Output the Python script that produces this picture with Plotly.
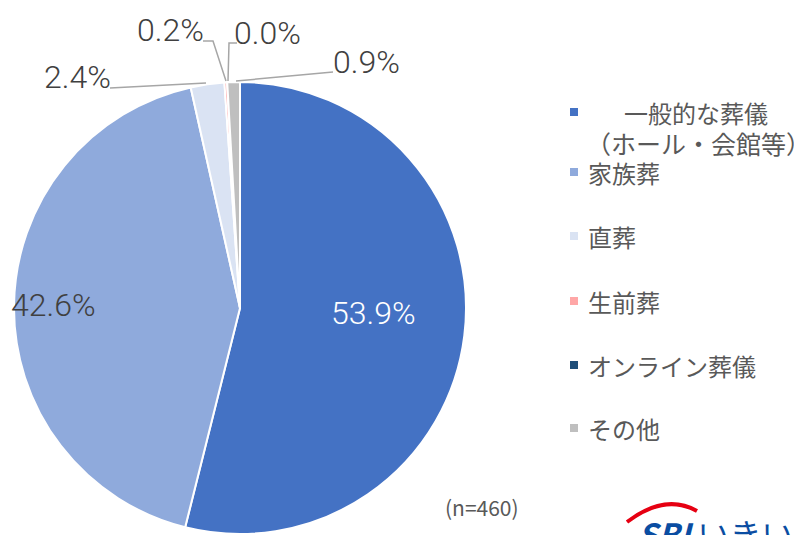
import plotly.graph_objects as go

categories = ["一般的な葬儀（ホール・会館等）", "家族葬", "直葬", "生前葬", "オンライン葬儀", "その他"]
values = [53.9, 42.6, 2.4, 0.2, 0.0, 0.9]
colors = ["#4472C4", "#8FAADC", "#DAE3F3", "#FFA7A7", "#1F4E79", "#BFBFBF"]
sample_note = "(n=460)"

W, H = 802, 535
OFF = 8  # page body margin


def px(x):
    return (x - OFF) / W


def py(y):
    return 1 - (y - OFF) / H


fig = go.Figure()
fig.add_trace(go.Pie(
    labels=categories,
    values=values,
    sort=False,
    direction="clockwise",
    rotation=0,
    marker=dict(colors=colors, line=dict(color="white", width=2)),
    textinfo="none",
    hoverinfo="label+percent",
    showlegend=False,
    domain=dict(x=[px(13), px(467)], y=[py(534), py(82)]),
))

pct_font = dict(family="Roboto", size=32, weight=300)
label_pos = [(373, 313, "white"), (53, 305, "#404040"), (77, 77, "#404040"),
             (170, 30, "#404040"), (267, 33, "#404040"), (366, 62, "#404040")]
annotations = []
for v, (x, y, c) in zip(values, label_pos):
    annotations.append(dict(x=px(x), y=py(y), xref="paper", yref="paper",
                            text=f"{v:.1f}%", showarrow=False,
                            font=dict(color=c, **pct_font),
                            xanchor="center", yanchor="middle"))

# leader lines
leaders = [
    [(110, 88), (206, 83)],
    [(203, 41), (213, 41), (226, 81)],
    [(237, 43), (229, 43), (228, 81)],
    [(333, 72), (236, 81)],
]
shapes = []
for pts in leaders:
    path = "M " + " L ".join(f"{px(a)},{py(b)}" for a, b in pts)
    shapes.append(dict(type="path", path=path, xref="paper", yref="paper",
                       line=dict(color="#A6A6A6", width=1.5)))

# manual legend
leg_font = dict(family="Noto Sans CJK JP", size=24, color="#595959")
leg_y = [112, 172, 236, 301, 365, 428]
for cat, col, y in zip(categories, colors, leg_y):
    shapes.append(dict(type="rect", xref="paper", yref="paper",
                       x0=px(570), x1=px(578), y0=py(y - 4), y1=py(y + 4),
                       fillcolor=col, line=dict(width=0)))
    if "（" in cat:
        first, second = cat.split("（", 1)
        annotations.append(dict(x=px(622), y=py(y), xref="paper", yref="paper",
                                text=first, showarrow=False, font=leg_font,
                                xanchor="left", yanchor="middle"))
        annotations.append(dict(x=px(584), y=py(y + 31), xref="paper", yref="paper",
                                text="（" + second, showarrow=False,
                                font=dict(leg_font, size=25),
                                xanchor="left", yanchor="middle"))
    else:
        annotations.append(dict(x=px(586), y=py(y), xref="paper", yref="paper",
                                text=cat, showarrow=False, font=leg_font,
                                xanchor="left", yanchor="middle"))

annotations.append(dict(x=px(482), y=py(507), xref="paper", yref="paper",
                        text=sample_note, showarrow=False,
                        font=dict(family="Noto Sans CJK JP", size=21, color="#595959"),
                        xanchor="center", yanchor="middle"))

# logo (partially cropped)
annotations.append(dict(x=px(636), y=py(533), xref="paper", yref="paper",
                        text="<b><i>SBI</i></b> いきいき", showarrow=False,
                        font=dict(family="Noto Sans CJK JP", size=32, color="#0A4DA2"),
                        xanchor="left", yanchor="middle"))
shapes.append(dict(type="path", xref="paper", yref="paper",
                   path=f"M {px(627)},{py(522)} Q {px(665)},{py(493)} {px(697)},{py(511)}",
                   line=dict(color="#E60012", width=4)))

fig.update_layout(
    width=W, height=H,
    margin=dict(l=0, r=0, t=0, b=0),
    paper_bgcolor="white", plot_bgcolor="white",
    annotations=annotations, shapes=shapes,
)
fig.write_html("out.html")
